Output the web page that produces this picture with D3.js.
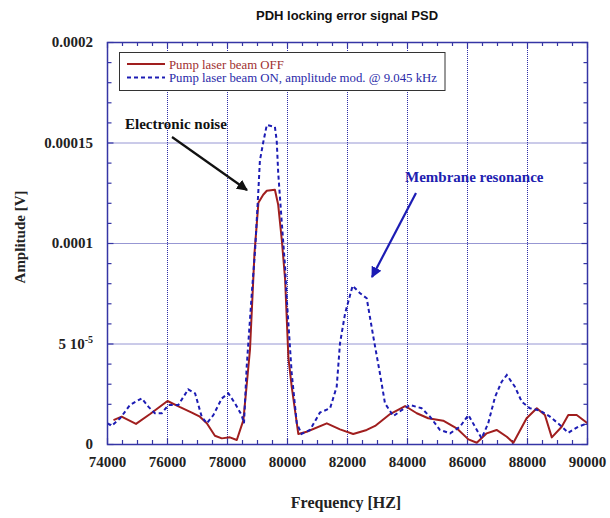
<!DOCTYPE html>
<html lang="en">
	<head>
		<meta charset="utf-8">
		<title>PDH locking error signal PSD</title>
		<script src="https://d3js.org/d3.v7.min.js"></script>
		<style>
			body { margin: 0; background: #fff; }
		</style>
	</head>
	<body>
		<script type="text/javascript">

			// size of svg
			var w = 610;
			var h = 518;
			var margin = {left: 107.5, right: 22.5, top: 42, bottom: 74};

			// pump OFF (red, solid) : frequency [Hz], amplitude [V]
			var freqOff = [74200, 74470, 74950, 75420, 76000, 76420, 76810, 77080, 77310, 77580,
				77810, 78080, 78310, 78530, 78750, 78900, 79030, 79190, 79310, 79580,
				79690, 79810, 79920, 80030, 80140, 80360, 80640, 81310, 81750, 82190,
				82640, 82920, 83420, 83920, 84310, 84690, 85190, 85640, 86030, 86310,
				86640, 86970, 87310, 87530, 87970, 88310, 88580, 88810, 89140, 89360,
				89640, 90000];
			var ampOff = [1.19e-5, 1.36e-5, 1.0e-5, 1.49e-5, 2.14e-5, 1.83e-5, 1.56e-5, 1.36e-5, 1.03e-5, 0.41e-5,
				0.28e-5, 0.33e-5, 0.2e-5, 1.19e-5, 4.7e-5, 9.5e-5, 12.0e-5, 12.4e-5, 12.6e-5, 12.65e-5,
				11.9e-5, 10.15e-5, 8.2e-5, 4.3e-5, 2.85e-5, 0.5e-5, 0.61e-5, 1.03e-5, 0.73e-5, 0.5e-5,
				0.7e-5, 0.9e-5, 1.49e-5, 1.89e-5, 1.53e-5, 1.28e-5, 1.16e-5, 0.78e-5, 0.23e-5, 0.06e-5,
				0.53e-5, 0.7e-5, 0.36e-5, 0.06e-5, 1.28e-5, 1.78e-5, 1.44e-5, 0.33e-5, 0.86e-5, 1.44e-5,
				1.44e-5, 1.03e-5];

			// pump ON (blue, dashed)
			var freqOn = [74000, 74140, 74420, 74750, 75140, 75360, 75580, 75810, 76030, 76360,
				76690, 76920, 77140, 77310, 77530, 77810, 78030, 78250, 78470, 78550,
				78640, 78810, 78920, 79030, 79080, 79190, 79310, 79580, 79640, 79690,
				79810, 79920, 79970, 80030, 80140, 80310, 80470, 80750, 81080, 81420,
				81640, 81750, 81920, 82030, 82170, 82420, 82640, 82860, 83080, 83250,
				83530, 83810, 84080, 84470, 84750, 85080, 85420, 85750, 86030, 86250,
				86470, 86690, 86920, 87140, 87310, 87580, 87810, 88080, 88420, 88750,
				89080, 89360, 89690, 90000];
			var ampOn = [1.03e-5, 0.9e-5, 1.28e-5, 1.94e-5, 2.27e-5, 1.86e-5, 1.53e-5, 1.53e-5, 1.94e-5, 1.94e-5,
				2.72e-5, 2.52e-5, 1.36e-5, 1.03e-5, 1.44e-5, 2.27e-5, 2.52e-5, 2.02e-5, 1.44e-5, 1.03e-5,
				3.85e-5, 7.5e-5, 9.65e-5, 12.64e-5, 14.1e-5, 15.0e-5, 15.87e-5, 15.78e-5, 15.1e-5, 13.5e-5,
				11.0e-5, 8.8e-5, 7.33e-5, 6.0e-5, 3.52e-5, 1.03e-5, 0.5e-5, 0.7e-5, 1.56e-5, 1.78e-5,
				2.85e-5, 5.01e-5, 6.5e-5, 7.1e-5, 7.87e-5, 7.5e-5, 7.25e-5, 5.34e-5, 3.52e-5, 2.02e-5,
				1.39e-5, 1.69e-5, 1.94e-5, 1.78e-5, 1.36e-5, 0.7e-5, 0.53e-5, 0.86e-5, 1.44e-5, 0.86e-5,
				0.28e-5, 1.03e-5, 2.35e-5, 3.1e-5, 3.43e-5, 2.85e-5, 2.1e-5, 1.78e-5, 1.66e-5, 1.36e-5,
				0.95e-5, 0.56e-5, 0.86e-5, 1.03e-5];

			// ticks
			var xTicks = [74000, 76000, 78000, 80000, 82000, 84000, 86000, 88000, 90000];
			var yTicks = [0, 5e-5, 1e-4, 1.5e-4, 2e-4];
			var yTickLabels = ["0", "5 10|-5", "0.0001", "0.00015", "0.0002"];

			var legendLabels = ["Pump laser beam OFF", "Pump laser beam ON, amplitude mod. @ 9.045 kHz"];

			var red = "#a01e1e";
			var blue = "#1c1cb4";
			var frame = "#3535a5";
			var serif = "'Liberation Serif', 'Times New Roman', serif";

			var svg = d3.select("body").append("svg").attr("width", w).attr("height", h);

			var xScale = d3.scaleLinear().domain([74000, 90000]).range([margin.left, w - margin.right]);
			var yScale = d3.scaleLinear().domain([0, 2e-4]).range([h - margin.bottom, margin.top]);

			var x0 = margin.left, x1 = w - margin.right, y0 = h - margin.bottom, y1 = margin.top;

			// grid (dotted)
			var grid = svg.append("g").attr("stroke", "#2e2ea6").attr("stroke-width", 1).attr("stroke-dasharray", "1,1");
			xTicks.slice(1, -1).forEach(function(t) {
				grid.append("line").attr("x1", xScale(t)).attr("x2", xScale(t)).attr("y1", y1).attr("y2", y0);
			});
			yTicks.slice(1, -1).forEach(function(t) {
				grid.append("line").attr("x1", x0).attr("x2", x1).attr("y1", yScale(t) + 0.5).attr("y2", yScale(t) + 0.5);
			});

			// ticks on all four sides, pointing inward
			var minorX = d3.range(74000, 90001, 500);
			var minorY = d3.range(0, 2.01e-4, 1e-5);
			var tk = svg.append("g").attr("stroke", frame).attr("stroke-width", 1.2);
			minorX.forEach(function(t) {
				var len = (t % 2000 === 0) ? 6 : 4;
				tk.append("line").attr("x1", xScale(t)).attr("x2", xScale(t)).attr("y1", y0).attr("y2", y0 - len);
				tk.append("line").attr("x1", xScale(t)).attr("x2", xScale(t)).attr("y1", y1).attr("y2", y1 + len);
			});
			minorY.forEach(function(t, i) {
				var len = (i % 5 === 0) ? 6 : 4;
				tk.append("line").attr("x1", x0).attr("x2", x0 + len).attr("y1", yScale(t) + 0.5).attr("y2", yScale(t) + 0.5);
				tk.append("line").attr("x1", x1).attr("x2", x1 - len).attr("y1", yScale(t) + 0.5).attr("y2", yScale(t) + 0.5);
			});

			// lines
			var line = d3.line().x(function(d) { return xScale(d[0]); }).y(function(d) { return yScale(d[1]); });
			var offData = d3.zip(freqOff, ampOff);
			var onData = d3.zip(freqOn, ampOn);

			svg.append("path").datum(offData).attr("d", line).attr("fill", "none")
				.attr("stroke", red).attr("stroke-width", 2).attr("stroke-linejoin", "round");
			svg.append("path").datum(onData).attr("d", line).attr("fill", "none")
				.attr("stroke", blue).attr("stroke-width", 2).attr("stroke-dasharray", "4,3");

			// frame
			svg.append("rect").attr("x", x0).attr("y", y1 + 0.5).attr("width", x1 - x0).attr("height", y0 - y1)
				.attr("fill", "none").attr("stroke", frame).attr("stroke-width", 1.5);

			// tick labels
			svg.append("g").selectAll("text").data(xTicks).enter().append("text")
				.attr("x", function(d) { return xScale(d); }).attr("y", y0 + 23)
				.attr("text-anchor", "middle").attr("font-family", serif).attr("font-weight", "bold")
				.attr("font-size", "15px").attr("fill", "#222").text(function(d) { return d; });

			var yl = svg.append("g");
			yTicks.forEach(function(t, i) {
				var lab = yTickLabels[i].split("|");
				var txt = yl.append("text").attr("x", 93).attr("y", yScale(t) + 5)
					.attr("text-anchor", "end").attr("font-family", serif).attr("font-weight", "bold")
					.attr("font-size", "15px").attr("fill", "#222").text(lab[0]);
				if (lab.length > 1) {
					txt.append("tspan").attr("dy", -6).attr("font-size", "10px").text(lab[1]);
				}
			});

			// axis titles
			svg.append("text").attr("x", 346).attr("y", 508).attr("text-anchor", "middle")
				.attr("font-family", serif).attr("font-weight", "bold").attr("font-size", "16px").attr("fill", "#222")
				.text("Frequency [HZ]");
			svg.append("text").attr("transform", "translate(25,237) rotate(-90)").attr("text-anchor", "middle")
				.attr("font-family", serif).attr("font-weight", "bold").attr("font-size", "15px").attr("fill", "#222")
				.text("Amplitude [V]");

			// title
			svg.append("text").attr("x", 347).attr("y", 20).attr("text-anchor", "middle")
				.attr("font-family", "'Liberation Sans', Arial, sans-serif").attr("font-weight", "bold")
				.attr("font-size", "13px").attr("fill", "#111").text("PDH locking error signal PSD");

			// legend
			var lg = svg.append("g");
			lg.append("rect").attr("x", 119.5).attr("y", 52.5).attr("width", 325.5).attr("height", 38)
				.attr("fill", "#fff").attr("stroke", "#333").attr("stroke-width", 1);
			lg.append("line").attr("x1", 127).attr("x2", 165).attr("y1", 64).attr("y2", 64)
				.attr("stroke", red).attr("stroke-width", 2);
			lg.append("line").attr("x1", 127).attr("x2", 165).attr("y1", 77.5).attr("y2", 77.5)
				.attr("stroke", blue).attr("stroke-width", 2).attr("stroke-dasharray", "4,3");
			lg.append("text").attr("x", 169).attr("y", 68.5).attr("font-family", serif).attr("font-size", "12.8px")
				.attr("fill", "#a03030").text(legendLabels[0]);
			lg.append("text").attr("x", 169).attr("y", 82).attr("font-family", serif).attr("font-size", "12.8px")
				.attr("fill", "#2a2aa8").text(legendLabels[1]);

			// annotations with arrows
			var defs = svg.append("defs");
			function arrowHead(id, color) {
				defs.append("marker").attr("id", id).attr("viewBox", "0 0 10 10").attr("refX", 9).attr("refY", 5)
					.attr("markerWidth", 5).attr("markerHeight", 5).attr("orient", "auto")
					.append("path").attr("d", "M0,0 L10,5 L0,10 z").attr("fill", color);
			}
			arrowHead("ahBlack", "#111");
			arrowHead("ahBlue", blue);

			svg.append("text").attr("x", 125).attr("y", 129).attr("font-family", serif).attr("font-weight", "bold")
				.attr("font-size", "15px").attr("fill", "#111").text("Electronic noise");
			svg.append("line").attr("x1", 172).attr("y1", 137).attr("x2", 247).attr("y2", 190)
				.attr("stroke", "#111").attr("stroke-width", 2.2).attr("marker-end", "url(#ahBlack)");

			svg.append("text").attr("x", 405).attr("y", 182).attr("font-family", serif).attr("font-weight", "bold")
				.attr("font-size", "15px").attr("fill", "#2020b0").text("Membrane resonance");
			svg.append("line").attr("x1", 416).attr("y1", 193).attr("x2", 372).attr("y2", 277)
				.attr("stroke", blue).attr("stroke-width", 2.2).attr("marker-end", "url(#ahBlue)");

		</script>
	</body>
</html>
